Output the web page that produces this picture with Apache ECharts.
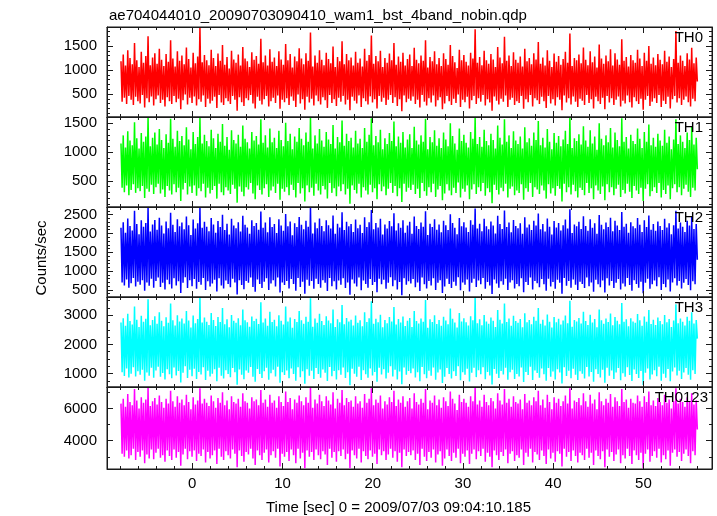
<!DOCTYPE html>
<html>
<head>
<meta charset="utf-8">
<script src="https://cdn.jsdelivr.net/npm/echarts@6/dist/echarts.min.js"></script>
<style>html,body{margin:0;padding:0;background:#fff}#c{width:717px;height:516px}</style>
</head>
<body>
<div id="c"></div>
<script>
// ---- data ----
const titleText = 'ae704044010_20090703090410_wam1_bst_4band_nobin.qdp';
const xTitle = 'Time [sec] 0 = 2009/07/03 09:04:10.185';
const yTitle = 'Counts/sec';
const bandNames = ['TH0', 'TH1', 'TH2', 'TH3', 'TH0123'];
const tStart = -7.9;   // first bin time (s)
const tBin = 0.125;    // bin width (s)

const th0 = [
1180,340,1320,420,1090,290,1410,460,1250,380,1120,270,1560,440,1200,350,
1060,300,1380,480,1150,220,1290,410,1700,330,1100,450,1260,260,1350,390,
1130,470,1440,310,1210,380,1080,240,1330,430,1170,350,1620,290,1240,460,
1070,330,1390,400,1190,180,1300,370,1120,490,1470,280,1230,420,1050,310,
1360,450,1140,260,1280,390,1890,340,1160,470,1310,230,1200,400,1100,300,
1420,360,1250,440,1080,210,1340,480,1190,320,1520,270,1110,410,1270,350,
1030,290,1400,460,1220,380,1150,150,1320,430,1090,330,1480,250,1240,410,
1180,370,1060,480,1370,300,1210,200,1290,440,1130,360,1650,280,1160,390,
1300,460,1090,240,1430,350,1170,420,1260,310,1080,470,1390,190,1220,380,
1110,330,1540,410,1200,270,1330,450,1050,360,1280,230,1180,490,1450,300,
1240,390,1120,170,1350,440,1190,320,1780,400,1070,260,1300,470,1150,350,
1410,280,1210,430,1100,370,1360,210,1230,480,1140,310,1490,390,1060,250,
1270,420,1180,340,1600,460,1120,280,1330,380,1200,160,1260,440,1090,360,
1380,300,1150,470,1240,230,1070,410,1440,350,1190,280,1310,450,1720,320,
1130,390,1290,200,1180,460,1400,340,1060,420,1250,270,1150,380,1340,480,
1200,310,1560,430,1110,250,1280,390,1170,140,1360,470,1090,330,1230,400,
1320,360,1080,450,1460,290,1210,380,1140,220,1300,480,1190,340,1620,260,
1050,410,1270,320,1180,470,1390,240,1120,370,1250,430,1080,180,1350,300,
1230,460,1110,350,1520,270,1290,400,1160,310,1040,490,1420,230,1200,380,
1310,330,1170,440,1090,200,1360,370,1240,460,1850,290,1150,410,1270,340,
1100,480,1400,260,1200,390,1130,320,1330,150,1220,450,1060,360,1480,280,
1260,400,1140,340,1690,470,1190,230,1300,380,1080,420,1370,270,1210,350,
1150,310,1280,460,1070,190,1440,390,1180,330,1250,480,1120,240,1350,410,
1220,370,1580,290,1130,440,1260,350,1090,210,1410,460,1190,300,1060,390,
1340,260,1170,430,1290,380,1110,160,1230,470,1380,320,1150,410,1760,280,
1080,450,1250,340,1200,230,1320,400,1140,360,1470,270,1210,480,1100,310,
1390,390,1160,200,1280,440,1050,350,1530,290,1240,420,1130,180,1300,460,
1180,320,1430,410,1090,270,1350,380,1220,450,1110,240,1640,360,1190,300,
1270,470,1070,330,1310,220,1200,430,1150,350,1420,290,1240,400,1080,170,
1360,380,1190,460,1500,250,1130,340,1260,410,1100,310,1330,480,1210,230,
1120,360,1400,290,1170,440,1280,200,1060,390,1230,460,1810,320,1150,410,
1300,270,1190,380,1080,450,1350,330,1220,240,1460,400,1140,350,1260,760
];
const th1 = [
1150,380,1290,300,1080,420,1360,250,1200,340,1120,440,1520,290,1240,370,
1060,320,1330,410,1180,200,1270,360,1610,310,1100,430,1250,270,1340,390,
1130,450,1400,280,1210,350,1070,220,1310,410,1160,330,1580,260,1230,440,
1090,300,1370,380,1190,150,1280,350,1120,460,1430,260,1220,400,1050,290,
1350,420,1140,240,1260,370,1600,320,1150,450,1300,210,1190,380,1100,280,
1390,340,1240,410,1070,190,1320,450,1180,300,1490,250,1110,390,1260,330,
1040,270,1380,430,1210,360,1150,120,1300,400,1090,310,1460,230,1230,390,
1170,350,1060,460,1350,280,1200,180,1280,420,1130,340,1570,260,1160,370,
1290,440,1080,220,1410,330,1170,400,1250,290,1070,450,1370,170,1210,360,
1100,310,1510,390,1190,250,1320,430,1050,340,1270,210,1180,460,1420,280,
1230,370,1120,140,1340,420,1180,300,1600,380,1060,240,1290,450,1150,330,
1400,260,1200,410,1090,350,1350,190,1220,460,1140,290,1470,370,1060,230,
1260,400,1170,320,1550,440,1110,260,1320,360,1190,100,1250,420,1080,340,
1370,280,1150,450,1230,210,1070,390,1420,330,1180,260,1300,430,1590,300,
1120,370,1280,180,1170,440,1390,320,1050,400,1240,250,1140,360,1330,460,
1190,290,1530,410,1100,230,1270,370,1160,130,1350,450,1080,310,1220,380,
1310,340,1070,430,1440,270,1200,360,1130,200,1290,460,1180,320,1580,240,
1050,390,1260,300,1170,450,1380,220,1110,350,1240,410,1070,160,1340,280,
1220,440,1100,330,1500,250,1280,380,1150,290,1040,470,1410,210,1190,360,
1300,310,1160,420,1080,180,1350,350,1230,440,1610,270,1140,390,1260,320,
1090,460,1390,240,1190,370,1120,300,1320,110,1210,430,1060,340,1460,260,
1250,380,1130,320,1570,450,1180,210,1290,360,1070,400,1360,250,1200,330,
1140,290,1270,440,1060,170,1430,370,1170,310,1240,460,1110,220,1340,390,
1210,350,1540,270,1120,420,1250,330,1080,190,1400,440,1180,280,1050,370,
1330,240,1160,410,1280,360,1100,140,1220,450,1370,300,1140,390,1600,260,
1070,430,1240,320,1190,210,1310,380,1130,340,1450,250,1200,460,1090,290,
1380,370,1150,180,1270,420,1040,330,1500,270,1230,400,1120,160,1290,440,
1170,300,1420,390,1080,250,1340,360,1210,430,1100,220,1590,340,1180,280,
1260,450,1060,310,1300,200,1190,410,1140,330,1410,270,1230,380,1070,150,
1350,360,1180,440,1480,230,1120,320,1250,390,1090,290,1320,460,1200,210,
1110,340,1390,270,1160,420,1270,180,1050,370,1220,440,1570,300,1140,390,
1290,250,1180,360,1070,430,1340,310,1210,220,1440,380,1130,330,1250,700
];
const th2 = [
2150,700,2300,620,2020,780,2400,560,2200,680,2080,820,2600,590,2250,720,
1980,640,2350,760,2180,480,2280,700,2690,610,2050,800,2240,560,2360,740,
2100,830,2420,580,2210,690,2000,510,2320,770,2140,650,2550,540,2230,810,
2040,620,2380,730,2190,420,2290,690,2110,840,2450,550,2220,760,1960,600,
2370,790,2130,530,2270,710,2680,640,2150,820,2310,500,2180,730,2060,590,
2410,670,2240,770,2020,460,2330,810,2170,620,2500,540,2090,750,2260,660,
1970,570,2390,800,2210,700,2140,380,2300,760,2050,630,2470,520,2230,740,
2160,690,1990,830,2350,580,2200,450,2280,780,2100,660,2580,550,2150,720,
2290,810,2030,500,2430,670,2170,760,2250,590,2010,830,2380,430,2210,700,
2070,630,2520,740,2190,540,2320,790,1950,660,2270,480,2170,820,2440,580,
2230,720,2110,400,2340,770,2180,610,2700,740,2000,530,2290,800,2140,660,
2400,560,2200,760,2060,690,2350,470,2220,820,2130,600,2480,730,1990,510,
2260,750,2160,640,2560,810,2090,550,2310,700,2190,370,2250,780,2040,670,
2370,590,2140,830,2230,490,2010,750,2430,660,2170,560,2300,790,2620,630,
2110,710,2280,440,2160,800,2390,650,1970,770,2240,530,2130,690,2330,840,
2190,600,2540,760,2080,510,2270,710,2150,360,2350,810,2020,640,2210,730,
2310,670,1990,790,2450,570,2200,700,2120,470,2290,830,2180,650,2590,540,
1960,740,2260,620,2170,810,2380,500,2100,690,2240,760,2030,420,2340,590,
2220,800,2090,660,2510,550,2280,720,2150,610,1980,840,2410,490,2190,700,
2300,640,2160,780,2040,460,2350,690,2230,800,2660,580,2130,750,2260,650,
2060,820,2390,530,2190,710,2110,620,2320,390,2210,780,2000,670,2470,560,
2250,730,2120,640,2610,800,2170,500,2290,700,2030,760,2360,540,2200,660,
2140,600,2270,810,1990,440,2430,710,2160,630,2240,830,2090,510,2340,740,
2210,680,2530,570,2110,790,2250,650,2050,480,2400,800,2180,590,1970,710,
2330,530,2160,770,2280,690,2080,400,2220,820,2370,610,2130,740,2640,560,
2010,780,2240,640,2190,500,2310,720,2120,660,2460,550,2200,830,2070,600,
2380,700,2150,450,2270,770,1990,650,2490,570,2230,750,2110,430,2290,810,
2170,620,2420,740,2060,550,2340,690,2210,790,2090,510,2570,670,2180,590,
2260,820,2020,630,2300,480,2190,760,2140,660,2410,560,2230,720,2040,410,
2350,690,2170,800,2480,530,2100,650,2250,750,2070,600,2320,840,2200,500,
2090,660,2390,570,2160,780,2270,460,1980,700,2220,810,2600,620,2130,740,
2290,540,2180,690,2040,790,2340,630,2210,490,2440,730,2120,650,2250,1300
];
const th3 = [
2750,1050,2900,920,2640,1180,3050,870,2800,1000,2680,1220,3300,900,2850,1080,
2600,960,2980,1130,2780,760,2880,1040,3550,930,2660,1200,2840,860,2970,1110,
2710,1240,3100,890,2810,1020,2620,800,2930,1150,2740,980,3400,840,2830,1210,
2650,940,3000,1090,2790,700,2890,1030,2720,1250,3150,850,2820,1130,2580,910,
2990,1170,2730,820,2870,1060,3600,970,2750,1220,2920,780,2780,1100,2670,900,
3080,1000,2840,1150,2630,740,2940,1200,2770,930,3250,830,2690,1120,2860,990,
2590,880,3010,1190,2810,1050,2740,620,2900,1140,2660,960,3200,810,2830,1110,
2760,1030,2610,1230,2960,890,2800,720,2880,1160,2700,990,3450,850,2750,1080,
2890,1200,2640,790,3120,1010,2770,1130,2850,900,2620,1240,3000,690,2810,1050,
2680,950,3300,1110,2790,840,2920,1180,2570,990,2870,760,2770,1220,3150,880,
2830,1080,2710,650,2950,1150,2780,930,3580,1100,2610,820,2890,1190,2740,990,
3050,860,2800,1140,2670,1030,2970,750,2820,1230,2730,910,3200,1090,2600,800,
2860,1120,2760,960,3350,1210,2690,850,2910,1050,2790,600,2850,1170,2650,1000,
2990,890,2740,1240,2830,780,2620,1120,3100,980,2770,860,2900,1180,3480,940,
2710,1060,2880,720,2760,1200,3020,970,2590,1150,2840,830,2730,1030,2940,1250,
2790,900,3280,1130,2680,800,2870,1070,2750,640,2960,1210,2630,960,2810,1090,
2910,1010,2600,1180,3150,870,2800,1050,2720,740,2890,1230,2780,980,3520,840,
2570,1100,2860,930,2770,1210,3000,790,2700,1040,2840,1140,2640,680,2950,890,
2820,1190,2690,990,3230,830,2880,1080,2750,920,2580,1250,3080,770,2790,1050,
2900,960,2760,1170,2650,730,2970,1030,2830,1200,3600,880,2730,1120,2860,980,
2660,1220,3010,810,2790,1060,2710,940,2920,630,2810,1160,2600,1000,3180,850,
2850,1090,2720,970,3400,1200,2770,790,2890,1050,2640,1130,2980,820,2800,990,
2740,900,2870,1210,2590,710,3070,1060,2760,950,2840,1240,2690,780,2950,1110,
2810,1020,3250,860,2710,1180,2850,980,2650,760,3030,1190,2780,890,2580,1070,
2940,800,2760,1150,2880,1040,2680,660,2820,1220,2990,920,2730,1100,3500,840,
2610,1170,2840,960,2790,780,2910,1080,2720,1000,3120,830,2800,1230,2670,900,
3020,1060,2750,720,2870,1150,2590,990,3200,870,2830,1130,2710,690,2890,1200,
2770,930,3060,1110,2660,820,2940,1040,2810,1190,2690,770,3420,1010,2780,890,
2860,1220,2620,950,2900,750,2790,1140,2740,990,3040,850,2830,1090,2640,610,
2960,1030,2780,1180,3180,800,2700,970,2850,1120,2670,910,2920,1240,2800,760,
2690,1000,3010,860,2760,1160,2870,740,2600,1070,2820,1210,3380,940,2730,1100,
2890,820,2780,1040,2650,1190,2950,960,2810,790,3100,1120,2720,990,2840,2200
];
const th0123 = [
6300,3200,6600,3000,6100,3400,6900,2900,6400,3100,6200,3500,7200,2800,6500,3300,
6000,3000,6700,3400,6350,2600,6550,3150,7300,2900,6150,3450,6450,2850,6650,3250,
6250,3500,6800,2950,6400,3100,6050,2700,6600,3400,6300,3050,7100,2800,6450,3450,
6100,2950,6750,3300,6350,2450,6550,3150,6200,3500,6850,2850,6400,3350,5950,3000,
6700,3400,6250,2750,6500,3200,7250,3050,6300,3450,6600,2650,6350,3300,6150,2900,
6800,3100,6450,3400,6050,2550,6650,3500,6350,3000,7000,2800,6200,3350,6500,3100,
5950,2900,6750,3450,6400,3200,6300,2350,6600,3400,6100,3050,6950,2700,6450,3300,
6350,3150,6000,3500,6700,2900,6450,2500,6550,3400,6200,3100,7150,2800,6350,3250,
6550,3450,6100,2650,6850,3100,6350,3350,6500,2950,6050,3500,6750,2400,6400,3200,
6150,3000,7050,3300,6400,2750,6650,3450,5950,3100,6550,2600,6350,3500,6800,2900,
6450,3250,6200,2300,6700,3400,6350,3000,7300,3300,6050,2800,6550,3450,6300,3100,
6850,2850,6450,3350,6150,3150,6750,2500,6500,3500,6250,2950,7000,3300,6000,2700,
6600,3350,6350,3050,7150,3450,6200,2850,6650,3200,6400,2300,6500,3400,6100,3100,
6750,2900,6300,3500,6450,2650,6050,3350,6900,3050,6350,2850,6600,3400,7250,3000,
6200,3200,6550,2550,6350,3450,6800,3100,6000,3350,6450,2800,6250,3150,6700,3500,
6400,2950,7100,3350,6150,2700,6550,3250,6350,2350,6750,3450,6100,3050,6450,3300,
6650,3100,6000,3400,6950,2800,6400,3200,6250,2500,6600,3500,6350,3000,7200,2750,
5950,3300,6500,2950,6350,3450,6800,2650,6200,3150,6550,3350,6050,2450,6700,2900,
6450,3450,6150,3050,7050,2750,6600,3250,6300,2950,5900,3500,6850,2600,6400,3200,
6600,3000,6350,3400,6100,2550,6750,3200,6450,3450,7300,2850,6250,3350,6500,3050,
6100,3500,6850,2700,6400,3250,6200,3000,6650,2350,6450,3400,6000,3100,6950,2800,
6500,3300,6250,3050,7200,3450,6350,2600,6600,3200,6100,3350,6750,2750,6400,3100,
6300,2950,6550,3450,5950,2500,6900,3250,6350,3000,6500,3500,6200,2650,6700,3300,
6450,3150,7100,2800,6200,3400,6550,3050,6050,2550,6850,3450,6400,2900,5950,3250,
6700,2700,6350,3350,6600,3200,6150,2400,6450,3500,6800,3000,6300,3300,7250,2750,
6000,3400,6500,3050,6400,2650,6650,3250,6200,3100,6950,2800,6450,3500,6100,2950,
6850,3250,6300,2500,6550,3400,5950,3050,7000,2850,6450,3350,6200,2350,6600,3450,
6350,3000,6900,3300,6100,2750,6700,3150,6450,3450,6150,2600,7200,3100,6400,2900,
6550,3500,6050,3050,6600,2550,6350,3400,6300,3100,6800,2800,6450,3250,6100,2300,
6750,3200,6400,3450,7050,2700,6200,3050,6500,3350,6150,2950,6650,3500,6400,2650,
6200,3100,6850,2850,6350,3400,6550,2450,6000,3250,6450,3450,7250,3000,6300,3300,
6600,2750,6400,3200,6100,3450,6700,3050,6450,2600,6950,3350,6250,3100,6500,4700
];
const seriesValues = [th0, th1, th2, th3, th0123];
const bandColors = ['#ff0000', '#00ff00', '#0000ff', '#00ffff', '#ff00ff'];
const yMin = [20, 44, 313, 541, 2246];
const yMax = [1895, 1610, 2703, 3627, 7331];
const ySplit = [4, 3, 5, 3, 3];
const yMinor = [5, 5, 5, 4, 2];
const xMin = -9.45, xMax = 57.6;

// ---- layout ----
const panelTop = [27, 117, 207, 297, 387];
const panelH = [90, 90, 90, 90, 89];
const FONT = 'Liberation Sans, Arial, Helvetica, sans-serif';

const grids = [], xAxes = [], yAxes = [], series = [], graphics = [];
for (let i = 0; i < 5; i++) {
  grids.push({left: 107, right: 5, top: panelTop[i], height: panelH[i], show: true,
    borderColor: '#1a1a1a', borderWidth: 1, backgroundColor: 'transparent'});
  const last = i === 4;
  const xBase = {
    type: 'value', gridIndex: i, min: xMin, max: xMax, splitNumber: 6,
    axisLine: {show: true, onZero: false, lineStyle: {color: '#1a1a1a', width: 1}},
    axisTick: {show: true, inside: true, length: 6, lineStyle: {color: '#1a1a1a'}},
    minorTick: {show: true, splitNumber: 5, length: 3, lineStyle: {color: '#1a1a1a'}},
    splitLine: {show: false}, z: 10
  };
  xAxes.push(Object.assign({}, xBase, {position: 'bottom',
    axisLabel: {show: last, showMinLabel: false, showMaxLabel: false, color: '#000', fontSize: 15, fontFamily: FONT, margin: 7,
      formatter: v => String(v)},
    name: last ? xTitle : '', nameLocation: 'middle', nameGap: 31,
    nameTextStyle: {color: '#000', fontSize: 15, fontFamily: FONT, padding: [0, 22, 0, 0]}
  }));
  xAxes.push(Object.assign({}, xBase, {position: 'top', axisLabel: {show: false}}));
  const yBase = {
    type: 'value', gridIndex: i, min: yMin[i], max: yMax[i], splitNumber: ySplit[i],
    axisLine: {show: true, onZero: false, lineStyle: {color: '#1a1a1a', width: 1}},
    axisTick: {show: true, inside: true, length: 6, lineStyle: {color: '#1a1a1a'}},
    minorTick: {show: true, splitNumber: yMinor[i], length: 3, lineStyle: {color: '#1a1a1a'}},
    splitLine: {show: false}, z: 10
  };
  yAxes.push(Object.assign({}, yBase, {position: 'left',
    axisLabel: {show: true, showMinLabel: false, showMaxLabel: false, color: '#000', fontSize: 15, fontFamily: FONT, margin: 10,
      formatter: v => String(v)}}));
  yAxes.push(Object.assign({}, yBase, {position: 'right', axisLabel: {show: false}}));

  const vals = seriesValues[i];
  const data = vals.map((v, k) => [tStart + k * tBin, v]);
  series.push({
    type: 'line', name: bandNames[i], xAxisIndex: 2 * i, yAxisIndex: 2 * i,
    data: data, symbol: 'none', showSymbol: false, silent: true,
    lineStyle: {color: bandColors[i], width: 1.5}, itemStyle: {color: bandColors[i]},
    clip: true, animation: false
  });
  graphics.push({type: 'text', right: i === 4 ? 9 : 14, top: panelTop[i] + 3,
    style: {text: bandNames[i], fill: '#000', font: '15px ' + FONT}, z: 100});
}
graphics.push({type: 'text', x: 42, y: 258, rotation: Math.PI / 2,
  style: {text: yTitle, fill: '#000', font: '15px ' + FONT, align: 'center', verticalAlign: 'middle'}});

const chart = echarts.init(document.getElementById('c'), null, {renderer: 'canvas'});
chart.setOption({
  animation: false,
  backgroundColor: '#fff',
  title: {text: titleText, left: 104, top: 3, textStyle: {color: '#000', fontSize: 15, fontWeight: 'normal', fontFamily: FONT}},
  grid: grids, xAxis: xAxes, yAxis: yAxes, series: series, graphic: graphics
});
</script>
</body>
</html>
